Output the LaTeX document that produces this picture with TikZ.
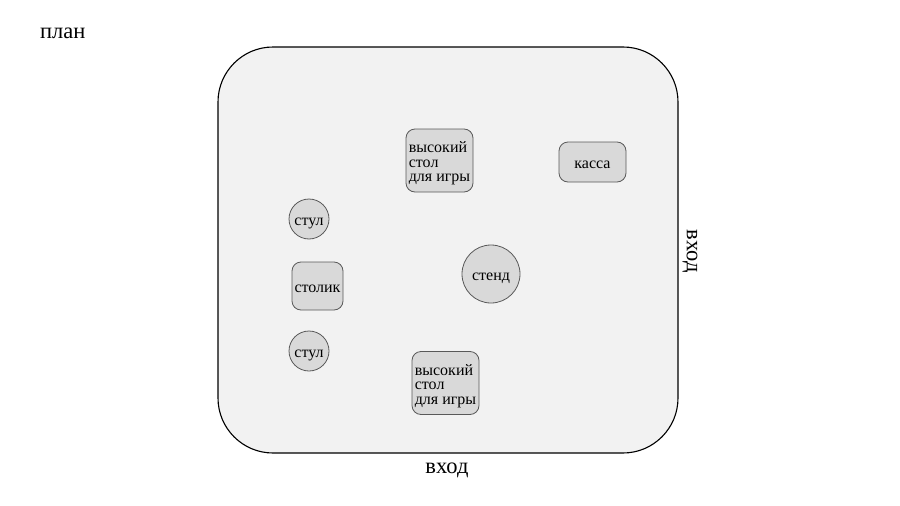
\documentclass[tikz,border=0pt]{standalone}
\usepackage{fontspec}
\setmainfont{Liberation Serif}
\definecolor{roomfill}{HTML}{F2F2F2}
\definecolor{itemfill}{HTML}{D9D9D9}
\definecolor{itemline}{HTML}{595959}
\begin{document}
\begin{tikzpicture}[x=1pt,y=-1pt,
  item/.style={draw=itemline,fill=itemfill,line width=0.8pt,inner sep=1pt,font=\fontsize{16}{14.5}\selectfont,text height=13pt,text depth=0pt},
  boxitem/.style={item,rectangle,rounded corners=9pt,align=left},
  tallitem/.style={boxitem,text height=42pt},
  rounditem/.style={item,circle,inner sep=0pt},
  label/.style={font=\fontsize{22.5}{25}\selectfont,inner sep=0pt}]
\useasboundingbox (0,0) rectangle (900,506);
\draw[fill=roomfill,line width=1.1pt,rounded corners=55pt] (218,47) rectangle (678,453);
\node[label,anchor=base west] (plan) at (40,38) {план};
\node[label,anchor=base] (vhod1) at (447,473) {вход};
\node[label,rotate=-90] (vhod2) at (690,251) {вход};
\node[tallitem,minimum width=67pt,minimum height=63pt] (hi1) at (439.5,160.5) {высокий\\стол\\для игры};
\node[boxitem,minimum width=67pt,minimum height=40pt,align=center] (kassa) at (592.5,162) {касса};
\node[rounditem,minimum size=40pt] (stul1) at (309,219) {стул};
\node[boxitem,minimum width=51pt,minimum height=48pt,align=center] (stolik) at (317.5,286) {столик};
\node[rounditem,minimum size=40pt] (stul2) at (309,351) {стул};
\node[rounditem,minimum size=58pt] (stend) at (491,274) {стенд};
\node[tallitem,minimum width=67pt,minimum height=63pt] (hi2) at (445.5,383) {высокий\\стол\\для игры};
\end{tikzpicture}
\end{document}
